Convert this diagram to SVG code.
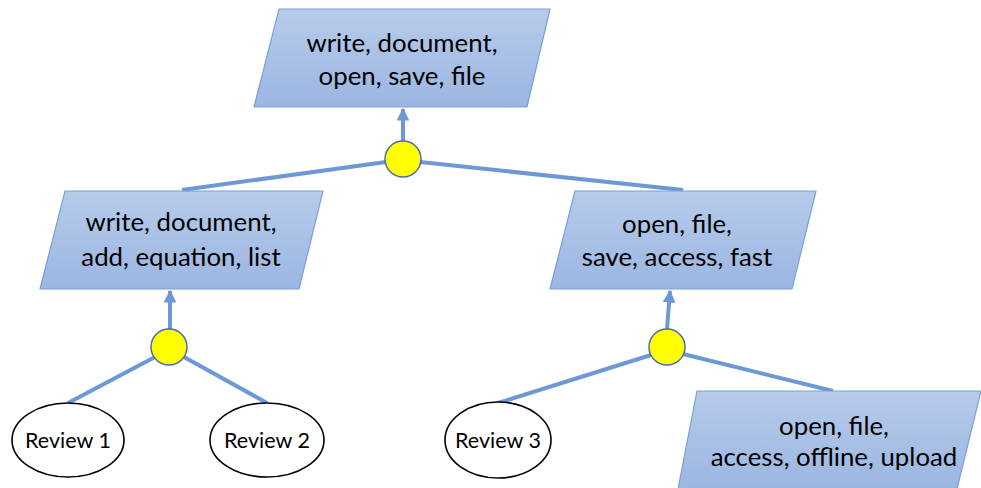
<svg xmlns="http://www.w3.org/2000/svg" width="981" height="488" viewBox="0 0 981 488">
<defs>
<linearGradient id="g" x1="0" y1="0" x2="0" y2="1">
<stop offset="0" stop-color="#b7cbea"/>
<stop offset="1" stop-color="#9bb6e2"/>
</linearGradient>
<marker id="arr" viewBox="0 0 10 10" refX="9" refY="5" markerWidth="3.2" markerHeight="3.2" orient="auto" markerUnits="strokeWidth">
<path d="M0,0 L10,5 L0,10 z" fill="#6c98d6"/>
</marker>
<style>
.p{fill:url(#g);stroke:#7aa0d8;stroke-width:1.2}
.t{font-family:Lato,"Liberation Sans",sans-serif;font-size:25.8px;fill:#000;text-anchor:middle}
.r{font-family:Lato,"Liberation Sans",sans-serif;font-size:21.5px;fill:#000;text-anchor:middle}
.e{fill:#fff;stroke:#000;stroke-width:1.6}
.c{fill:#ffff00;stroke:#4a6ea8;stroke-width:1.5}
.l{stroke:#6c98d6;stroke-width:4;fill:none}
</style>
</defs>
<g id="connectors">
<line class="l" x1="403" y1="141" x2="403" y2="109" marker-end="url(#arr)"/>
<line class="l" x1="386" y1="162" x2="182" y2="190"/>
<line class="l" x1="420" y1="162" x2="683" y2="190"/>
<line class="l" x1="170" y1="329" x2="170" y2="291" marker-end="url(#arr)"/>
<line class="l" x1="155" y1="357" x2="68" y2="403"/>
<line class="l" x1="184" y1="357" x2="267" y2="403"/>
<line class="l" x1="667" y1="329" x2="670" y2="291" marker-end="url(#arr)"/>
<line class="l" x1="651" y1="355" x2="498" y2="403"/>
<line class="l" x1="683" y1="354" x2="833" y2="391"/>
</g>
<g id="n-top">
<polygon class="p" points="279,9 550,9 527,107 254,107"/>
<text class="t" x="402" y="52">write, document,</text>
<text class="t" x="402" y="85">open, save, file</text>
</g>
<g id="n-left">
<polygon class="p" points="65,191 323,191 299,289 40,289"/>
<text class="t" x="181" y="231">write, document,</text>
<text class="t" x="181" y="266">add, equation, list</text>
</g>
<g id="n-right">
<polygon class="p" points="575,191 816,191 792,289 550,289"/>
<text class="t" x="677" y="233">open, file,</text>
<text class="t" x="677" y="266">save, access, fast</text>
</g>
<g id="n-br">
<polygon class="p" points="697,391 981,391 957,489 678,489"/>
<text class="t" x="834" y="435">open, file,</text>
<text class="t" x="834" y="466">access, offline, upload</text>
</g>
<g id="and-top"><circle class="c" cx="403" cy="159" r="18"/></g>
<g id="and-left"><circle class="c" cx="169" cy="347" r="18"/></g>
<g id="and-right"><circle class="c" cx="667" cy="347" r="18"/></g>
<g id="review1">
<ellipse class="e" cx="68" cy="440" rx="56" ry="37"/>
<text class="r" x="68" y="448">Review 1</text>
</g>
<g id="review2">
<ellipse class="e" cx="267" cy="440" rx="57" ry="37"/>
<text class="r" x="267" y="448">Review 2</text>
</g>
<g id="review3">
<ellipse class="e" cx="498" cy="440" rx="53" ry="38"/>
<text class="r" x="498" y="448">Review 3</text>
</g>
</svg>
